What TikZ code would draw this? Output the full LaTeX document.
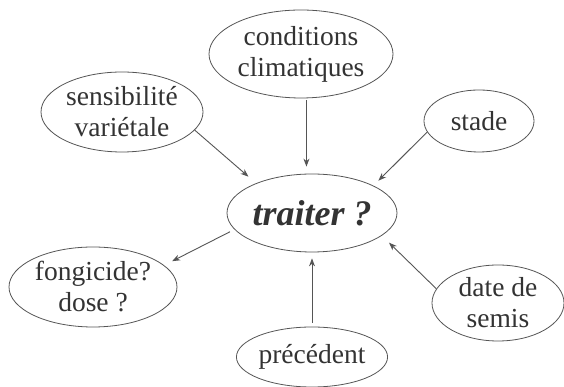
\documentclass[tikz,border=0pt]{standalone}
\usepackage{fontspec}
\setmainfont{Liberation Serif}
\usetikzlibrary{shapes.geometric,arrows.meta}
\definecolor{txt}{HTML}{333333}
\definecolor{ln}{HTML}{555555}
\tikzset{
  bub/.style={ellipse,draw=ln,line width=0.8pt,inner sep=0pt,align=center,text=txt,
    font=\fontsize{27.5}{31}\selectfont},
  arr/.style={draw=ln,line width=0.9pt,-{Stealth[length=8pt,width=6pt]}}
}
\begin{document}
\begin{tikzpicture}[x=1pt,y=1pt]
\useasboundingbox[fill=white] (0,0) rectangle (564,387);
\node[bub,minimum width=184pt,minimum height=88pt] (cond) at (301,333) {conditions\\climatiques};
\node[bub,minimum width=162pt,minimum height=80pt] (sens) at (122,275) {sensibilité\\variétale};
\node[bub,minimum width=110pt,minimum height=62pt] (stade) at (479,266) {stade};
\node[bub,minimum width=170pt,minimum height=78pt,font=\fontsize{36}{40}\selectfont\bfseries\itshape] (trait) at (312,174) {traiter ?};
\node[bub,minimum width=168pt,minimum height=80pt] (fong) at (93,100) {fongicide?\\dose ?};
\node[bub,minimum width=132pt,minimum height=76pt] (date) at (498,84) {date de\\semis};
\node[bub,minimum width=150pt,minimum height=60pt] (prec) at (312,30) {précédent};
\draw[arr,shorten >=10pt] (sens.-14) -- (trait.152);
\draw[arr,shorten <=2pt,shorten >=7pt] (cond.-83) -- (cond.-83 |- trait.north);
\draw[arr,shorten >=7pt] (stade.192) -- (trait.24);
\draw[arr,shorten <=5pt,shorten >=9pt] (trait.192) -- (fong.17);
\draw[arr,shorten <=4pt,shorten >=6pt] (prec.north) -- (trait.south);
\draw[arr,shorten >=10pt] (date.167) -- (trait.-18);
\end{tikzpicture}
\end{document}
